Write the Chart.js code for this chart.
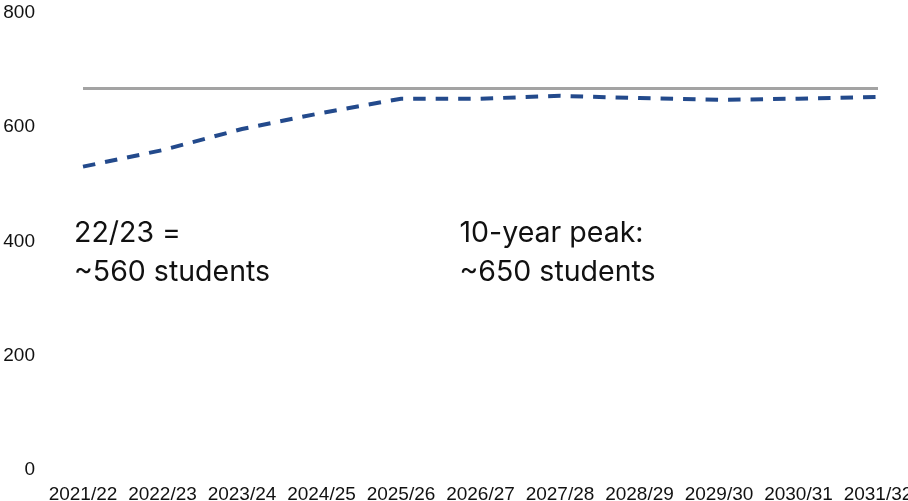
<!DOCTYPE html>
<html>
<head>
<meta charset="utf-8">
<script src="https://cdn.jsdelivr.net/npm/chart.js@4"></script>
<style>
  html, body { margin: 0; padding: 0; overflow: hidden; background: #fff; }
  #wrap { width: 908px; height: 501px; overflow: hidden; }
  canvas { display: block; }
</style>
</head>
<body>
<div id="wrap"><canvas id="c" width="960" height="501"></canvas></div>
<script>
const categories = ['2021/22','2022/23','2023/24','2024/25','2025/26','2026/27','2027/28','2028/29','2029/30','2030/31','2031/32'];
const enrolment = [531, 560, 597, 625, 650, 650, 655, 651, 648, 650, 653];
const capacity = [668, 668, 668, 668, 668, 668, 668, 668, 668, 668, 668];
const yTicks = [0, 200, 400, 600, 800];
const notes = [
  { lines: ['22/23 =', '~560 students'], cat: 0, dx: -9 },
  { lines: ['10-year peak:', '~650 students'], cat: 5, dx: -21 }
];

const notePlugin = {
  id: 'notes',
  afterDatasetsDraw(chart) {
    const ctx = chart.ctx;
    const xs = chart.scales.x;
    const ys = chart.scales.y;
    ctx.save();
    ctx.fillStyle = '#111';
    ctx.font = '400 28.5px Inter, Roboto, sans-serif';
    ctx.textAlign = 'left';
    ctx.textBaseline = 'alphabetic';
    notes.forEach(n => {
      const x = xs.getPixelForValue(n.cat) + n.dx;
      const y0 = ys.getPixelForValue(400) + 0.5;
      n.lines.forEach((t, i) => ctx.fillText(t, x, y0 + i * 38.5));
    });
    ctx.restore();
  }
};

new Chart(document.getElementById('c'), {
  type: 'line',
  data: {
    labels: categories,
    datasets: [
      {
        label: 'Capacity',
        data: capacity,
        borderColor: '#a3a3a3',
        borderWidth: 3,
        pointRadius: 0,
        tension: 0,
        fill: false
      },
      {
        label: 'Enrolment',
        data: enrolment,
        borderColor: '#234a8c',
        borderWidth: 4,
        borderDash: [12.5, 10],
        pointRadius: 0,
        tension: 0,
        fill: false
      }
    ]
  },
  options: {
    responsive: false,
    animation: false,
    layout: { padding: { top: 13, right: 82, left: 0, bottom: 0 } },
    plugins: { legend: { display: false }, tooltip: { enabled: false } },
    scales: {
      x: {
        grid: { display: false, drawTicks: false },
        border: { display: false },
        ticks: {
          color: '#111',
          font: { family: 'Liberation Sans, Arial, sans-serif', size: 19 },
          padding: 13,
          maxRotation: 0,
          autoSkip: false
        },
        afterFit(s) { s.height = 31; }
      },
      y: {
        min: 0,
        max: 800,
        afterBuildTicks(s) { s.ticks = yTicks.map(v => ({ value: v })); },
        grid: { display: false, drawTicks: false },
        border: { display: false },
        ticks: {
          color: '#111',
          font: { family: 'Liberation Sans, Arial, sans-serif', size: 19 },
          padding: 48
        },
        afterFit(s) { s.width = 83; s.paddingTop = 0; s.paddingBottom = 0; }
      }
    }
  },
  plugins: [notePlugin]
});
</script>
</body>
</html>
